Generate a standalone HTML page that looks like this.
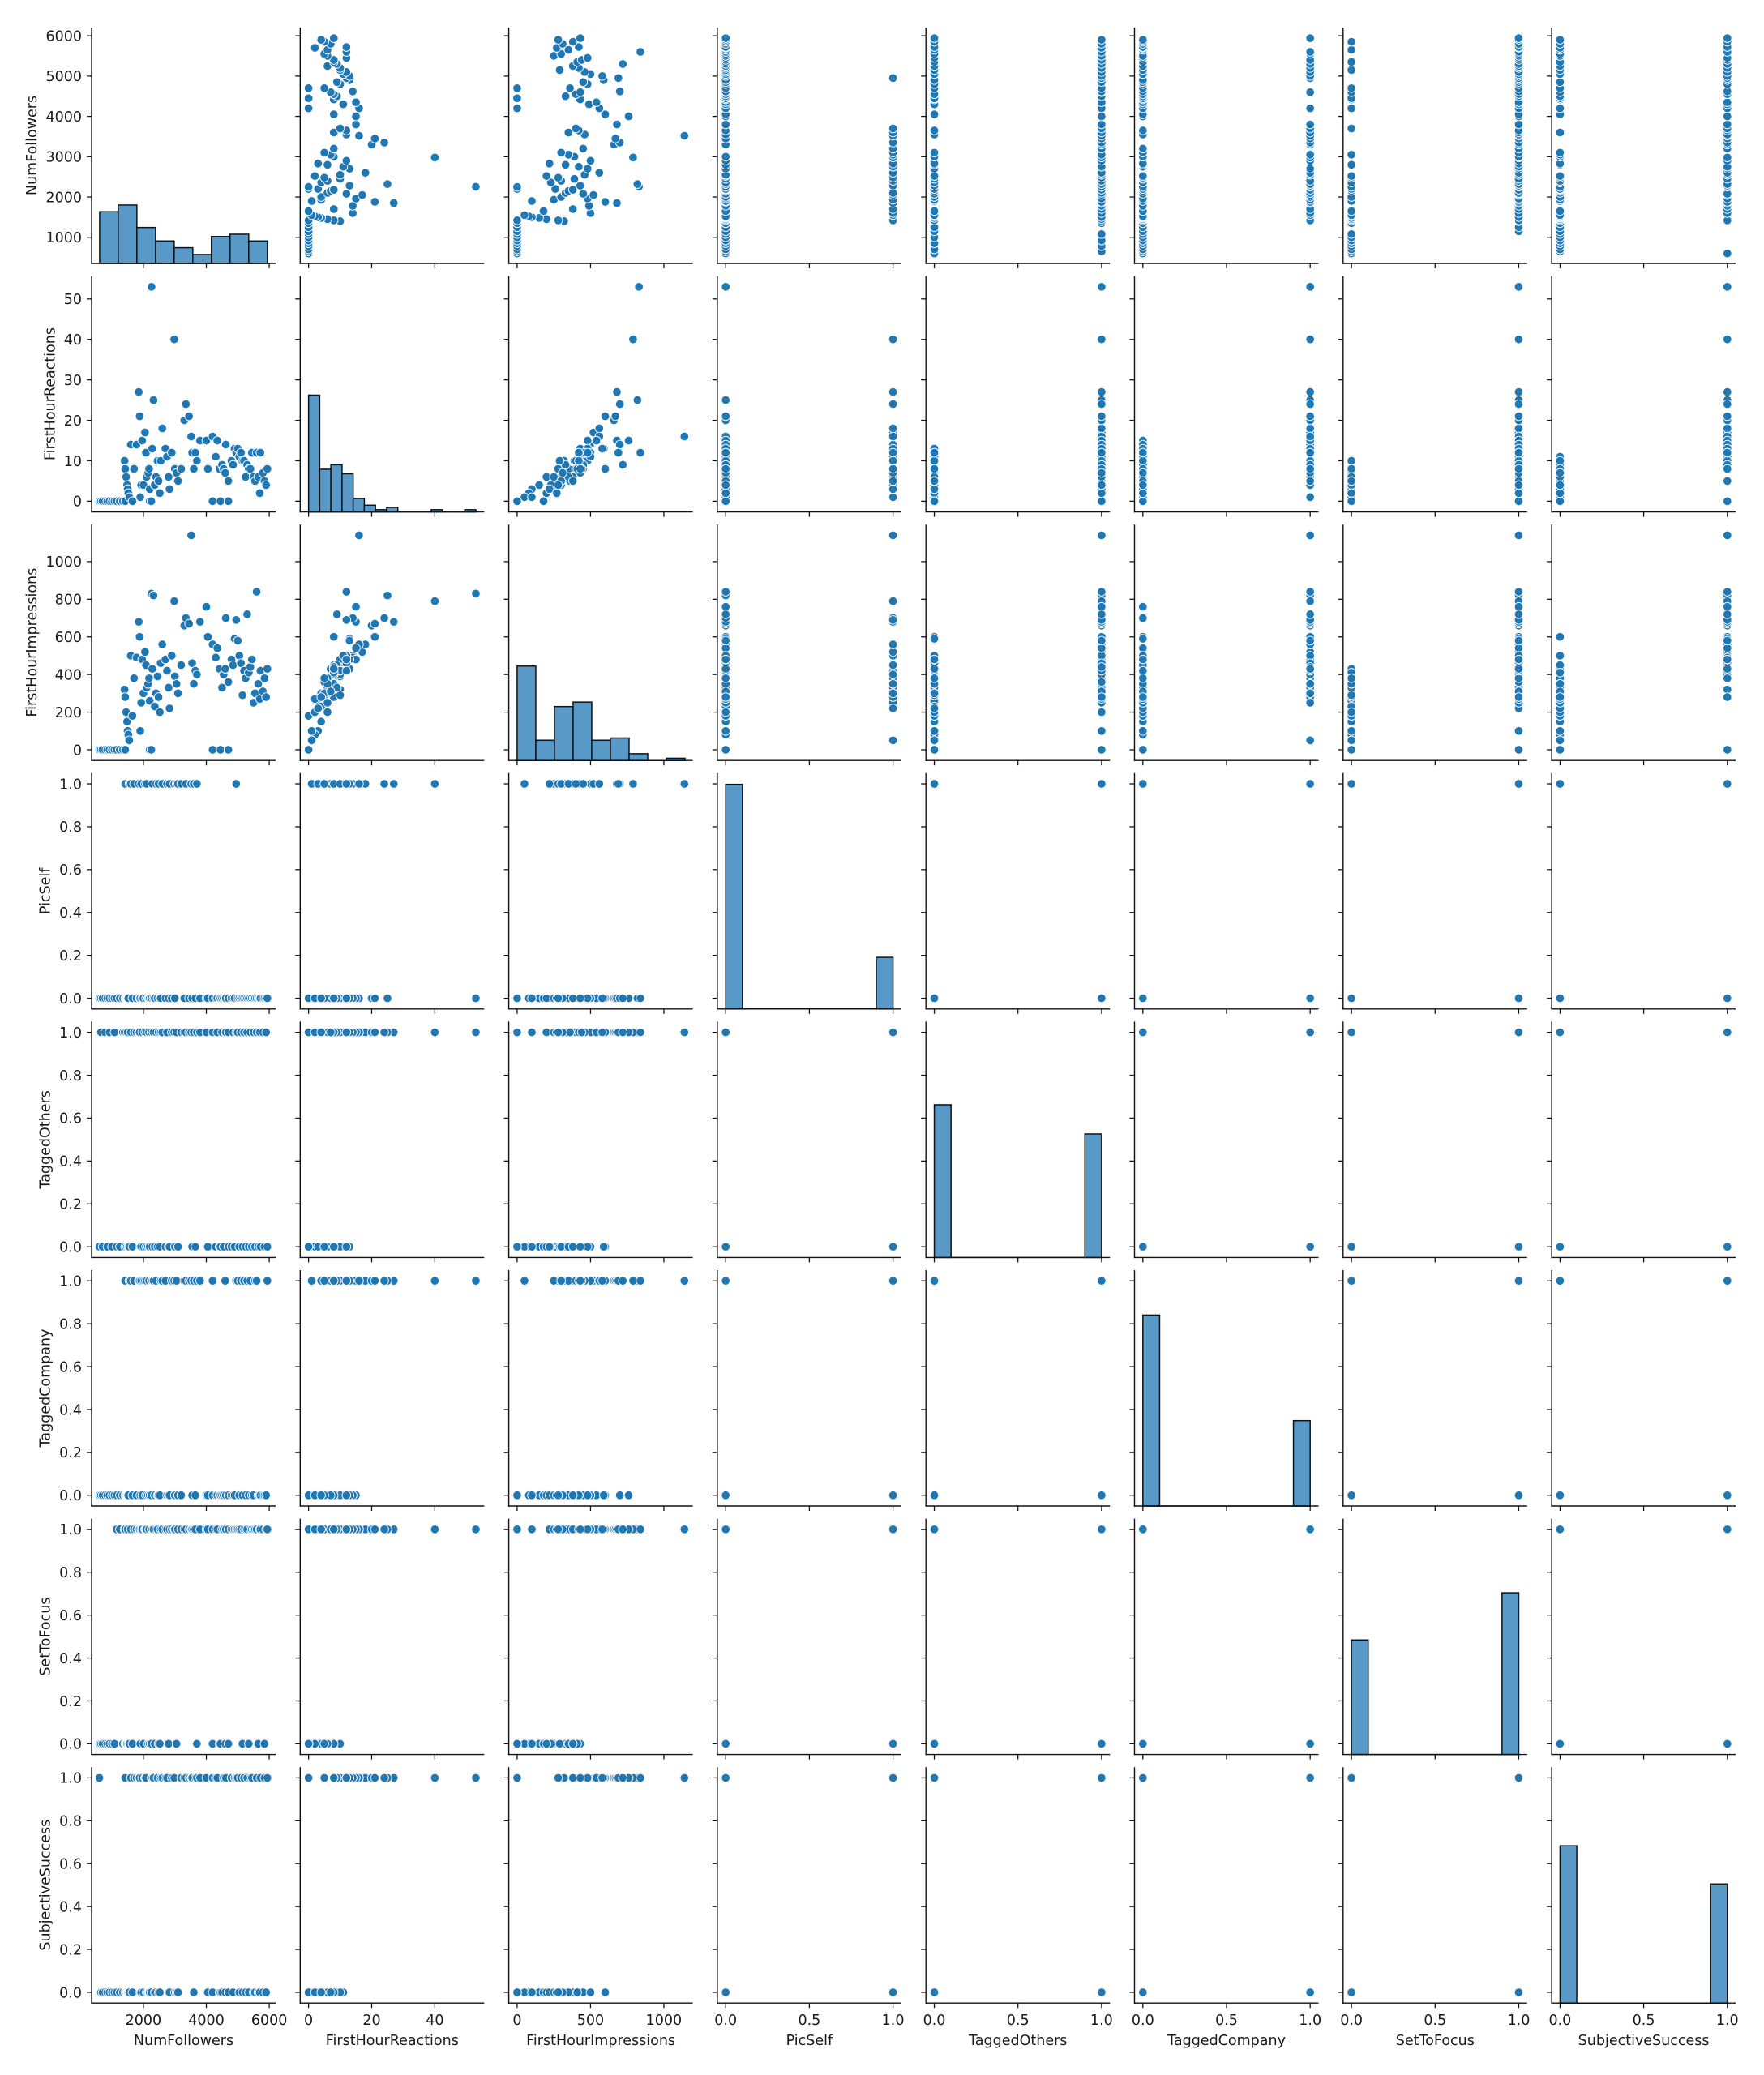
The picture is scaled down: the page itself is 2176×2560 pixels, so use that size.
<!DOCTYPE html>
<html><head><meta charset="utf-8"><style>
html,body{margin:0;padding:0;background:#fff;}
svg{display:block;}
text{font-family:"DejaVu Sans","Liberation Sans",sans-serif;fill:#1a1a1a;}
</style></head><body>
<svg id="chart" width="2176" height="2560" viewBox="0 0 2176 2560" xmlns="http://www.w3.org/2000/svg"></svg>
<script>
const varNames = ["NumFollowers","FirstHourReactions","FirstHourImpressions","PicSelf","TaggedOthers","TaggedCompany","SetToFocus","SubjectiveSuccess"];
const followers = [600,650,700,780,850,920,1000,1080,1150,1250,
1350,1420,1400,1420,1450,1480,1500,1520,1550,1600,
1650,1700,1780,1850,1880,1900,1930,1960,2000,2050,
2080,2100,2150,2180,2200,2200,2250,2255,2280,2320,
2360,2400,2450,2480,2520,2550,2600,2700,2750,2800,
2830,2900,2980,3000,3050,3100,3200,3300,3350,3450,
3520,3550,3600,3650,3700,3800,4000,4050,4200,4200,
4300,4350,4420,4450,4500,4550,4600,4620,4700,4700,
4800,4850,4900,4950,5000,5050,5100,5150,5200,5250,
5300,5350,5400,5450,5500,5550,5600,5650,5700,5720,
5800,5850,5900,5940];
const reactions = [0,0,0,0,0,0,0,0,0,0,
0,0,10,8,6,4,3,2,1,14,
0,8,14,27,21,1,4,15,4,17,
12,6,7,8,3,0,0,53,13,25,
4,6,10,5,2,10,18,13,11,6,
3,12,40,8,7,5,8,20,24,21,
16,12,8,12,10,15,15,8,0,16,
11,15,8,0,9,8,7,14,0,5,
10,9,13,12,13,11,12,10,10,6,
9,8,8,12,6,5,12,6,2,12,
7,5,4,8];
const impressions = [0,0,0,0,0,0,0,0,0,0,
0,0,320,280,200,150,100,80,50,500,
180,380,490,680,600,100,250,480,300,520,
450,330,350,380,260,0,0,830,430,820,
230,300,390,280,200,460,560,480,420,330,
220,500,790,390,350,300,450,660,700,670,
1140,460,350,420,400,680,760,600,0,560,
490,540,430,0,330,400,430,700,0,360,
480,450,590,690,580,500,460,290,420,380,
720,410,440,480,250,300,840,350,270,420,
310,380,280,430];
const picSelf = [0,0,0,0,0,0,0,0,0,0,
0,0,1,1,0,0,0,0,1,1,
0,1,0,1,0,0,1,0,0,1,
0,1,0,0,0,0,0,0,1,0,
0,1,0,1,0,0,1,0,1,0,
1,0,1,0,1,1,1,0,1,0,
1,0,1,0,1,0,0,0,0,0,
0,0,0,0,0,0,0,0,0,0,
0,0,0,1,0,0,0,0,0,0,
0,0,0,0,0,0,0,0,0,0,
0,0,0,0];
const taggedOthers = [0,1,0,1,0,1,0,1,0,0,
1,0,1,0,1,0,1,0,0,1,
0,1,1,1,1,0,0,1,0,1,
0,1,0,1,0,0,1,1,0,1,
0,1,0,1,0,1,1,0,1,0,
0,1,1,0,1,0,1,1,1,1,
1,0,1,0,1,1,1,0,1,1,
0,1,0,0,1,0,1,1,0,1,
0,1,0,1,1,0,1,0,1,0,
1,0,1,0,1,0,1,0,1,0,
1,0,1,0];
const taggedCompany = [0,0,0,0,0,0,0,0,0,0,
0,0,1,1,0,0,0,0,1,1,
0,1,0,1,1,0,1,0,1,1,
0,1,0,1,0,0,0,1,1,1,
0,1,0,0,0,1,1,1,0,0,
0,1,1,0,1,0,0,1,1,1,
1,0,1,0,1,1,0,0,0,1,
0,0,0,0,0,0,1,0,0,0,
0,0,0,1,1,0,1,0,1,0,
1,0,1,0,0,1,1,0,0,0,
0,0,0,1];
const setToFocus = [0,0,0,0,0,0,0,0,1,1,
0,0,1,1,0,0,1,0,0,1,
0,1,1,1,1,0,1,1,0,1,
1,1,0,1,0,0,0,1,1,1,
0,1,1,0,0,1,1,1,1,0,
1,1,1,1,0,1,1,1,1,1,
1,1,1,1,0,1,1,1,0,1,
1,1,0,0,1,1,0,1,0,1,
1,1,1,1,1,1,1,0,1,1,
1,0,1,1,1,1,1,0,1,1,
1,0,1,1];
const subjectiveSuccess = [1,0,0,0,0,0,0,0,0,0,
0,0,1,1,0,0,0,0,0,1,
0,1,1,1,1,0,0,1,0,1,
1,0,0,0,0,0,0,1,1,1,
0,0,1,0,0,1,1,1,1,0,
0,1,1,0,0,0,1,1,1,1,
1,1,0,1,1,1,1,0,0,1,
1,1,0,0,0,1,0,1,0,0,
1,0,1,1,1,0,1,0,1,0,
1,0,1,1,0,0,1,0,0,1,
0,1,0,1];
// histogram bin counts (diagonal)
const histFollowers = [23,26,16,10,7,4,12,13,10];
const histReactions = [52,19,21,17,6,3,1,2,0,0,0,1,0,0,1];
const histImpressions = [42,9,24,26,9,10,3,0,1];
const histPicSelf = [100,0,0,0,0,0,0,0,0,23];
const histTaggedOthers = [68,0,0,0,0,0,0,0,0,55];
const histTaggedCompany = [85,0,0,0,0,0,0,0,0,38];
const histSetToFocus = [51,0,0,0,0,0,0,0,0,72];
const histSuccess = [70,0,0,0,0,0,0,0,0,53];
const histRanges = [[607,5940],[0,53],[0,1144],[0,1],[0,1],[0,1],[0,1],[0,1]];
const histMaxCount = 105;
// tick values
const ticksFollowersY = [1000,2000,3000,4000,5000,6000];
const ticksFollowersX = [2000,4000,6000];
const ticksReactionsY = [0,10,20,30,40,50];
const ticksReactionsX = [0,20,40];
const ticksImpressionsY = [0,200,400,600,800,1000];
const ticksImpressionsX = [0,500,1000];
const ticksBinaryY = [0.0,0.2,0.4,0.6,0.8,1.0];
const ticksBinaryX = [0.0,0.5,1.0];

const series = [followers,reactions,impressions,picSelf,taggedOthers,taggedCompany,setToFocus,subjectiveSuccess];
const hists = [histFollowers,histReactions,histImpressions,histPicSelf,histTaggedOthers,histTaggedCompany,histSetToFocus,histSuccess];
const lims = [[352,6204],[-2.65,55.65],[-57,1197],[-0.05,1.05],[-0.05,1.05],[-0.05,1.05],[-0.05,1.05],[-0.05,1.05]];
const yTicks = [ticksFollowersY,ticksReactionsY,ticksImpressionsY,ticksBinaryY,ticksBinaryY,ticksBinaryY,ticksBinaryY,ticksBinaryY];
const xTicks = [ticksFollowersX,ticksReactionsX,ticksImpressionsX,ticksBinaryX,ticksBinaryX,ticksBinaryX,ticksBinaryX,ticksBinaryX];
function fmt(i,v){ return i>=3 ? v.toFixed(1) : String(v); }

const NS="http://www.w3.org/2000/svg";
const svg=document.getElementById('chart');
const L0=113, CP=257.3, W=227, T0=34, RP=306.6, H=291, FS=17.5;
function mk(tag,attrs,parent){const e=document.createElementNS(NS,tag);for(const k in attrs)e.setAttribute(k,attrs[k]);(parent||svg).appendChild(e);return e;}
function sx(c,v){const l=lims[c];return L0+c*CP+W*(v-l[0])/(l[1]-l[0]);}
function sy(r,v){const l=lims[r];return T0+r*RP+H*(l[1]-v)/(l[1]-l[0]);}

for(let r=0;r<8;r++){
  for(let c=0;c<8;c++){
    const g=mk('g',{});
    
    
    const left=L0+c*CP, top=T0+r*RP, bottom=top+H;
    if(r===c){
      const counts=hists[r], rg=histRanges[r], n=counts.length, bw=(rg[1]-rg[0])/n;
      const base=mk('line',{x1:sx(c,rg[0]),x2:sx(c,rg[1]),y1:bottom,y2:bottom,stroke:'#111','stroke-width':1.5},g);
      
      
      for(let b=0;b<n;b++){
        const h=H*counts[b]/histMaxCount;
        const x1=sx(c,rg[0]+b*bw), x2=sx(c,rg[0]+(b+1)*bw);
        if(counts[b]<=0) continue;
        const bar=mk('rect',{x:x1,y:bottom-h,width:x2-x1,height:h,fill:'#5899c7',stroke:'#111','stroke-width':1.5},g);
        
        
      }
    } else {
      const xs=series[c], ys=series[r];
      for(let i=0;i<xs.length;i++){
        const p=mk('circle',{cx:sx(c,xs[i]),cy:sy(r,ys[i]),r:5.3,fill:'#1f77b4',stroke:'#fff','stroke-width':0.9},g);
        
        
      }
    }
    // spines
    const sl=mk('line',{x1:left,x2:left,y1:top,y2:bottom+0.7,stroke:'#111','stroke-width':1.4},g);
    
    
    const sb=mk('line',{x1:left-0.7,x2:left+W,y1:bottom,y2:bottom,stroke:'#111','stroke-width':1.4},g);
    
    
    // y ticks
    yTicks[r].forEach(v=>{
      const y=sy(r,v);
      const t=mk('line',{x1:left-6,x2:left,y1:y,y2:y,stroke:'#111','stroke-width':1.3},g);
      
      
      if(c===0){
        const tx=mk('text',{x:left-12,y:y+6.3,'text-anchor':'end','font-size':FS},g);
        
        
        tx.textContent=fmt(r,v);
      }
    });
    xTicks[c].forEach(v=>{
      const x=sx(c,v);
      const t=mk('line',{x1:x,x2:x,y1:bottom,y2:bottom+6,stroke:'#111','stroke-width':1.3},g);
      
      
      if(r===7){
        const tx=mk('text',{x:x,y:bottom+27,'text-anchor':'middle','font-size':FS},g);
        
        
        tx.textContent=fmt(c,v);
      }
    });
  }
}
// axis titles
const digitW=11.1;
for(let r=0;r<8;r++){
  const labs=yTicks[r].map(v=>fmt(r,v));
  let maxw=0; labs.forEach(s=>{let w=0;for(const ch of s)w+=(ch==='.')?5.6:digitW;maxw=Math.max(maxw,w);});
  const cx=L0-12-maxw-16.5, cy=T0+r*RP+H/2;
  const t=mk('text',{x:cx,y:cy,'text-anchor':'middle','dominant-baseline':'central','font-size':FS,transform:'rotate(-90 '+cx+' '+cy+')'});
  
  
  t.textContent=varNames[r];
}
for(let c=0;c<8;c++){
  const cx=L0+c*CP+W/2;
  const t=mk('text',{x:cx,y:2523,'text-anchor':'middle','font-size':FS});
  
  
  t.textContent=varNames[c];
}
</script>
</body></html>
